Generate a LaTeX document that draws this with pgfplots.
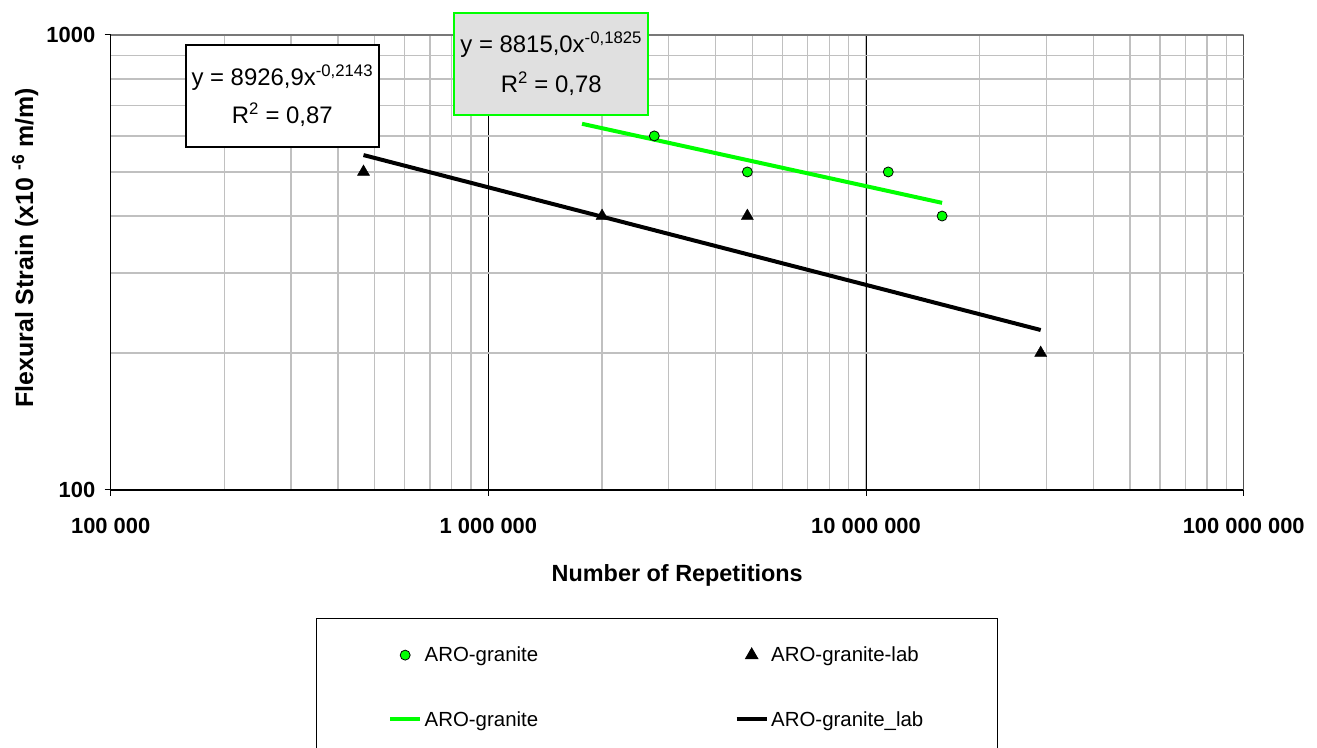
\documentclass[border=0pt]{standalone}
\usepackage{fontspec}
\setmainfont{Liberation Sans}
\usepackage{pgfplots}
\pgfplotsset{compat=1.18}

\definecolor{exgreen}{RGB}{0,255,0}
\definecolor{gridgray}{RGB}{192,192,192}
\definecolor{boxgray}{RGB}{224,224,224}
\definecolor{framegray}{RGB}{120,120,120}

\pgfplotsset{
    lineimg/.style={legend image code/.code={\draw[##1] (0bp,0bp) -- (30bp,0bp);}},
    markimg/.style={legend image code/.code={\draw[##1] plot coordinates {(15bp,0bp)};}},
}

\begin{document}
\begin{tikzpicture}[x=1bp,y=1bp]
\useasboundingbox (0,0) rectangle (1317,747);
\begin{axis}[
    at={(110.7bp,257bp)}, anchor=south west,
    scale only axis, width=1133bp, height=455bp,
    xmode=log, ymode=log,
    xmin=1e5, xmax=1e8, ymin=100, ymax=1000,
    axis x line*=bottom, axis y line*=left,
    axis line style={black, line width=1.2bp, -},
    xtick={1e5,1e6,1e7,1e8},
    xticklabels={100 000, 1 000 000, 10 000 000, 100 000 000},
    ytick={100,1000}, yticklabels={100,1000},
    tick align=outside, major tick length=6bp, minor tick length=0pt,
    tick style={black, line width=1bp},
    xmajorgrids, xminorgrids, yminorgrids,
    major grid style={black, line width=0.8bp},
    minor grid style={gridgray, line width=1.3bp},
    ticklabel style={font=\fontsize{22}{26}\selectfont\bfseries},
    xticklabel style={yshift=-19bp},
    yticklabel style={xshift=-6bp},
    xlabel={Number of Repetitions},
    ylabel={Flexural Strain (x10 \textsuperscript{-6} m/m)},
    xlabel style={font=\fontsize{23.5}{27}\selectfont\bfseries,
        at={(axis description cs:0.5,-0.1868)}, anchor=center},
    ylabel style={font=\fontsize{25}{29}\selectfont\bfseries,
        at={(axis description cs:-0.0756,0.532)}, anchor=center},
    legend columns=2,
    legend cell align=left,
    legend style={
        at={(axis description cs:0.1809,-0.2813)}, anchor=north west,
        draw=black, line width=1bp,
        inner xsep=72bp, inner ysep=26bp,
        row sep=43bp,
        nodes={inner sep=2.5bp},
        font=\fontsize{20.5}{24}\selectfont,
        /tikz/every even column/.append style={column sep=194bp},
    },
]
\addplot[only marks, mark=*, mark size=5bp,
    mark options={fill=exgreen, draw=black, line width=0.8bp}, markimg]
    coordinates {(2.75e6,600) (4.85e6,500) (1.145e7,500) (1.59e7,400)};
\addlegendentry{ARO-granite}
\addplot[only marks, mark=triangle*, mark size=7bp, black, markimg]
    coordinates {(4.67e5,500) (2e6,400) (4.85e6,400) (2.9e7,200)};
\addlegendentry{ARO-granite-lab}
\addplot[exgreen, line width=4bp, lineimg]
    coordinates {(1.77e6,638) (1.59e7,427.6)};
\addlegendentry{ARO-granite}
\addplot[black, line width=4bp, lineimg]
    coordinates {(4.67e5,544.6) (2.9e7,224.7)};
\addlegendentry{ARO-granite\_lab}
\draw[framegray, line width=1.3bp] (rel axis cs:0,1) -- (rel axis cs:1,1) -- (rel axis cs:1,0);
\end{axis}
\node[draw=black, line width=2bp, fill=white, minimum width=193bp,
    minimum height=102bp, align=center, inner sep=0pt,
    font=\fontsize{24}{38}\selectfont] at (282.3,651)
    {y = 8926,9x\textsuperscript{-0,2143}\\R\textsuperscript{2} = 0,87};
\node[draw=exgreen, line width=2bp, fill=boxgray, minimum width=194bp,
    minimum height=102bp, align=center, inner sep=0pt,
    font=\fontsize{24}{40}\selectfont] at (551.2,683)
    {y = 8815,0x\textsuperscript{-0,1825}\\R\textsuperscript{2} = 0,78};
\end{tikzpicture}
\end{document}
